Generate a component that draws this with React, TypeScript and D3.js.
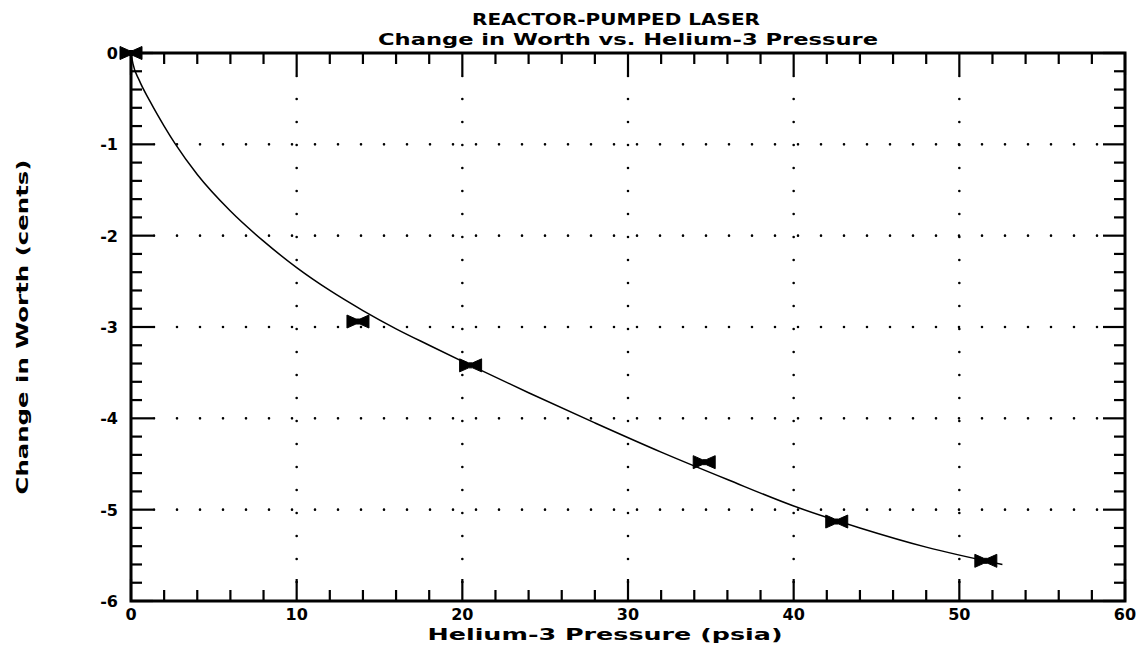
import React from "react";
import * as d3 from "d3";

const W = 1142;
const H = 656;

const titleLine1 = "REACTOR-PUMPED LASER";
const titleLine2 = "Change in Worth vs. Helium-3 Pressure";
const xTitle = "Helium-3 Pressure (psia)";
const yTitle = "Change in Worth (cents)";

const xTicks = [0, 10, 20, 30, 40, 50, 60];
const yTicks = [0, -1, -2, -3, -4, -5, -6];

// measured points (psia, cents)
const pointX = [0, 13.7, 20.5, 34.6, 42.6, 51.6];
const pointY = [0, -2.94, -3.42, -4.48, -5.13, -5.56];

// fitted curve
const curveX = [0, 0.12, 0.5, 1.15, 2, 2.65, 4, 6, 8, 10, 12, 14, 16, 18, 20.5, 24, 28, 32, 36, 40, 44, 48, 52.6];
const curveY = [0, -0.12, -0.3, -0.53, -0.8, -0.99, -1.33, -1.73, -2.06, -2.35, -2.6, -2.82, -3.02, -3.2, -3.42, -3.72, -4.05, -4.37, -4.67, -4.96, -5.2, -5.41, -5.6];

const FONT = "'DejaVu Sans', 'Liberation Sans', sans-serif";

export default function App() {
  const left = 131, right = 1125, top = 53, bottom = 601;
  const x = d3.scaleLinear().domain([0, 60]).range([left, right]);
  const y = d3.scaleLinear().domain([-6, 0]).range([bottom, top]);

  const xMinor = d3.range(0, 60.001, 2).filter((v) => v % 10 !== 0);
  const yMinor = d3.range(-6, 0.001, 0.2)
    .map((v) => Math.round(v * 10) / 10)
    .filter((v) => Math.abs(v - Math.round(v)) > 0.01);

  const line = d3
    .line<number>()
    .x((_, i) => x(curveX[i]))
    .y((_, i) => y(curveY[i]))
    .curve(d3.curveMonotoneX);

  const majLen = 22;
  const minLen = 11;
  const dot = { stroke: "#000", strokeWidth: 2.6, strokeLinecap: "round" as const, strokeDasharray: "0,23" };

  const bow = "M-11,-6.5 L-2,-2.5 L2,-2.5 L11,-6.5 L11,6.5 L2,2.5 L-2,2.5 L-11,6.5 Z";

  return (
    <svg width={W} height={H} style={{ position: "absolute", left: 0, top: 0, background: "#fff" }}>
      <rect x={0} y={0} width={W} height={H} fill="#fff" />
      {/* grid */}
      {xTicks.slice(1, -1).map((v) => (
        <line key={"gx" + v} x1={x(v)} x2={x(v)} y1={top + 23} y2={bottom - 5} style={dot} />
      ))}
      {yTicks.slice(1, -1).map((v) => (
        <line key={"gy" + v} x1={left + 23} x2={right - 5} y1={y(v)} y2={y(v)} style={dot} />
      ))}
      {/* frame */}
      <rect x={left} y={top} width={right - left} height={bottom - top} fill="none" stroke="#000" strokeWidth={3} />
      {/* x ticks */}
      {xTicks.map((v) => (
        <g key={"xt" + v} stroke="#000" strokeWidth={2.2}>
          <line x1={x(v)} x2={x(v)} y1={bottom} y2={bottom - majLen} />
          <line x1={x(v)} x2={x(v)} y1={top} y2={top + majLen} />
        </g>
      ))}
      {xMinor.map((v) => (
        <g key={"xm" + v} stroke="#000" strokeWidth={2.2}>
          <line x1={x(v)} x2={x(v)} y1={bottom} y2={bottom - minLen} />
          <line x1={x(v)} x2={x(v)} y1={top} y2={top + minLen} />
        </g>
      ))}
      {/* y ticks */}
      {yTicks.map((v) => (
        <g key={"yt" + v} stroke="#000" strokeWidth={2.2}>
          <line x1={left} x2={left + majLen} y1={y(v)} y2={y(v)} />
          <line x1={right} x2={right - majLen} y1={y(v)} y2={y(v)} />
        </g>
      ))}
      {yMinor.map((v) => (
        <g key={"ym" + v} stroke="#000" strokeWidth={2.2}>
          <line x1={left} x2={left + minLen} y1={y(v)} y2={y(v)} />
          <line x1={right} x2={right - minLen} y1={y(v)} y2={y(v)} />
        </g>
      ))}
      {/* curve */}
      <path d={line(curveX) || ""} fill="none" stroke="#000" strokeWidth={1.5} />
      {/* points */}
      {pointX.map((px, i) => (
        <path key={"p" + i} d={bow} transform={`translate(${x(px)},${y(pointY[i])})`} fill="#000" stroke="#000" strokeWidth={1} strokeLinejoin="round" />
      ))}
      {/* tick labels */}
      {xTicks.map((v) => (
        <text key={"xl" + v} x={x(v)} y={620} textAnchor="middle" fontFamily={FONT} fontWeight="bold" fontSize={16}>
          {v}
        </text>
      ))}
      {yTicks.map((v) => (
        <text key={"yl" + v} x={118} y={y(v) + 6} textAnchor="end" fontFamily={FONT} fontWeight="bold" fontSize={16}>
          {v === 0 ? "0" : "-" + Math.abs(v)}
        </text>
      ))}
      {/* titles */}
      <text x={616} y={25} textAnchor="middle" fontFamily={FONT} fontWeight="bold" fontSize={16} textLength={288} lengthAdjust="spacingAndGlyphs">
        {titleLine1}
      </text>
      <text x={628} y={45} textAnchor="middle" fontFamily={FONT} fontWeight="bold" fontSize={16} textLength={500} lengthAdjust="spacingAndGlyphs">
        {titleLine2}
      </text>
      <text x={605} y={640} textAnchor="middle" fontFamily={FONT} fontWeight="bold" fontSize={16} textLength={355} lengthAdjust="spacingAndGlyphs">
        {xTitle}
      </text>
      <text transform={`translate(28,${(top + bottom) / 2}) rotate(-90)`} textAnchor="middle" fontFamily={FONT} fontWeight="bold" fontSize={16} textLength={335} lengthAdjust="spacingAndGlyphs">
        {yTitle}
      </text>
    </svg>
  );
}
